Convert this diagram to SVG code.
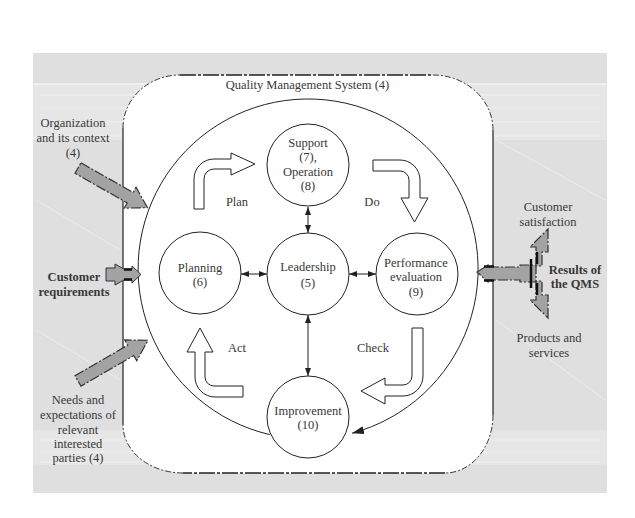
<svg xmlns="http://www.w3.org/2000/svg" width="635" height="518" viewBox="0 0 635 518">
  <style>
    .lbl { font-family: "Liberation Serif", "DejaVu Serif", serif; font-size: 12.5px; fill: #383838; text-anchor: middle; }
    .bold { font-weight: bold; }
    .node { fill: none; stroke: #222; stroke-width: 1; }
    .turn { fill: #fff; stroke: #222; stroke-width: 1; }
    .link { fill: none; stroke: #222; stroke-width: 1; marker-start: url(#tip); marker-end: url(#tip); }
    .input { fill: #a3a3a3; stroke: #333; stroke-width: 1.2; stroke-dasharray: 10 2 2 2; }
    .bar { stroke: #111; stroke-width: 2.5; }
    .streak { stroke: #fff; stroke-width: 1; opacity: 0.45; }
  </style>
  <defs>
    <marker id="tip" viewBox="0 0 8 6" refX="8" refY="3" markerWidth="8" markerHeight="6" markerUnits="userSpaceOnUse" orient="auto-start-reverse">
      <path d="M0,0 L8,3 L0,6 Z" fill="#222"/>
    </marker>
    <marker id="bigtip" viewBox="0 0 12 8" refX="12" refY="4" markerWidth="12" markerHeight="8" markerUnits="userSpaceOnUse" orient="auto">
      <path d="M0,0 L12,4 L0,8 Z" fill="#222"/>
    </marker>
  </defs>

  <!-- grey backdrop with light streaked bands -->
  <g id="backdrop">
    <rect x="33" y="53" width="574" height="440" fill="#dfdfdf"/>
    <rect x="33" y="85" width="574" height="55" fill="#e6e6e6"/>
    <rect x="33" y="430" width="574" height="35" fill="#e6e6e6"/>
    <line x1="33" y1="84" x2="607" y2="84" stroke="#fff" stroke-width="1.2"/>
    <line class="streak" x1="40" y1="95" x2="600" y2="95"/>
    <line class="streak" x1="40" y1="108" x2="600" y2="108"/>
    <line class="streak" x1="40" y1="122" x2="600" y2="122"/>
    <line class="streak" x1="40" y1="136" x2="600" y2="136"/>
    <line class="streak" x1="40" y1="440" x2="600" y2="440"/>
    <line class="streak" x1="40" y1="452" x2="600" y2="452"/>
    <line class="streak" x1="40" y1="462" x2="600" y2="462"/>
    <line class="streak" x1="36" y1="200" x2="120" y2="250"/>
    <line class="streak" x1="36" y1="330" x2="120" y2="380"/>
    <line class="streak" x1="496" y1="140" x2="605" y2="200"/>
    <line class="streak" x1="496" y1="320" x2="605" y2="400"/>
  </g>

  <!-- system boundary -->
  <g id="qms">
    <path d="M180,75 L433,75 A60,55 0 0 1 493,130 L493,415 A48,58 0 0 1 445,473 L183,473 A60,48 0 0 1 123,425 L123,128 A57,53 0 0 1 180,75 Z" fill="#fff"/>
    <path d="M180,75 L433,75 M445,473 L183,473" fill="none" stroke="#222" stroke-width="1.5" stroke-dasharray="16 2 3 2"/>
    <path d="M433,75 A60,55 0 0 1 493,130 M493,415 A48,58 0 0 1 445,473 M183,473 A60,48 0 0 1 123,425 M123,128 A57,53 0 0 1 180,75" fill="none" stroke="#222" stroke-width="0.9" stroke-dasharray="6 2 2 2"/>
    <path d="M493,130 L493,415 M123,425 L123,128" fill="none" stroke="#222" stroke-width="1.2"/>
    <text class="lbl" x="307.5" y="89">Quality Management System (4)</text>
  </g>

  <!-- PDCA cycle arrows -->
  <g id="plan-arrow">
    <path class="turn" d="M194,209 L194,179 A20,20 0 0 1 214,159 L231,159 L231,153 L255,164 L231,175 L231,169 L214,169 A10,10 0 0 0 204,179 L204,209 Z"/>
    <text class="lbl" x="237" y="206">Plan</text>
  </g>
  <g id="do-arrow">
    <path class="turn" d="M373,160 L400,160 A20,20 0 0 1 420,180 L420,198 L428,198 L414.5,222 L401,198 L409,198 L409,180 A9,9 0 0 0 400,171 L373,171 Z"/>
    <text class="lbl" x="372" y="206">Do</text>
  </g>
  <g id="check-arrow">
    <path class="turn" d="M412,328 L423,328 L423,376 A20,20 0 0 1 403,396 L385,396 L385,404 L361,391 L385,378 L385,385 L403,385 A9,9 0 0 0 412,376 Z"/>
    <text class="lbl" x="373" y="352">Check</text>
  </g>
  <g id="act-arrow">
    <path class="turn" d="M243,386 L243,397 L215,397 A20,20 0 0 1 195,377 L195,352 L187,352 L200,328 L213,352 L205,352 L205,377 A9,9 0 0 0 214,386 Z"/>
    <text class="lbl" x="237" y="352">Act</text>
  </g>

  <!-- clause nodes -->
  <g id="support">
    <circle class="node" cx="308" cy="165" r="41"/>
    <text class="lbl" x="308" y="147">Support</text>
    <text class="lbl" x="308" y="161">(7),</text>
    <text class="lbl" x="308" y="176">Operation</text>
    <text class="lbl" x="308" y="190">(8)</text>
  </g>
  <g id="leadership">
    <circle class="node" cx="308" cy="274" r="41"/>
    <text class="lbl" x="308" y="271">Leadership</text>
    <text class="lbl" x="308" y="287">(5)</text>
  </g>
  <g id="planning">
    <circle class="node" cx="200" cy="273" r="41"/>
    <text class="lbl" x="200" y="272">Planning</text>
    <text class="lbl" x="200" y="286">(6)</text>
  </g>
  <g id="performance">
    <circle class="node" cx="417" cy="274" r="41"/>
    <text class="lbl" x="416" y="267">Performance</text>
    <text class="lbl" x="416" y="281">evaluation</text>
    <text class="lbl" x="416" y="296">(9)</text>
  </g>
  <g id="improvement">
    <circle class="node" cx="308" cy="417" r="41"/>
    <text class="lbl" x="308" y="415">Improvement</text>
    <text class="lbl" x="308" y="429">(10)</text>
  </g>

  <!-- connectors -->
  <g id="connectors">
    <path d="M269.8,434.6 A170,170 0 1 1 352,433.2" fill="none" stroke="#222" stroke-width="1" marker-end="url(#bigtip)"/>
    <line class="link" x1="308" y1="207" x2="308" y2="233"/>
    <line class="link" x1="241" y1="274" x2="267" y2="274"/>
    <line class="link" x1="349" y1="274" x2="376" y2="274"/>
    <line class="link" x1="308" y1="315" x2="308" y2="376"/>
  </g>

  <!-- inputs -->
  <g id="context">
    <text class="lbl" x="73" y="127">Organization</text>
    <text class="lbl" x="73" y="142">and its context</text>
    <text class="lbl" x="73" y="157">(4)</text>
    <polygon class="input" transform="translate(78,168) rotate(29.7)" points="0,-6 60,-6 60,-12 80,0 60,12 60,6 0,6"/>
  </g>
  <g id="customer-requirements">
    <text class="lbl bold" x="74" y="281">Customer</text>
    <text class="lbl bold" x="74" y="296">requirements</text>
    <polygon points="106,268 115,268 115,264 124,269 132,269 132,266 141,274.5 132,283 132,280 124,280 115,285 115,281 106,281" fill="#a3a3a3" stroke="#333" stroke-width="1"/>
    <line class="bar" x1="124" y1="269.5" x2="132" y2="269.5"/>
    <line class="bar" x1="124" y1="279.5" x2="132" y2="279.5"/>
  </g>
  <g id="interested-parties">
    <polygon class="input" transform="translate(78,381) rotate(-30.2)" points="0,-6 61,-6 61,-12 81,0 61,12 61,6 0,6"/>
    <text class="lbl" x="78" y="404">Needs and</text>
    <text class="lbl" x="78" y="419">expectations of</text>
    <text class="lbl" x="78" y="434">relevant</text>
    <text class="lbl" x="78" y="448">interested</text>
    <text class="lbl" x="78" y="462">parties (4)</text>
  </g>

  <!-- outputs -->
  <g id="results">
    <polygon class="input" points="477,272 488,265 488,267 520,267 520,265 536,265 536,282 520,282 520,280 488,280 488,282"/>
    <polygon class="input" points="548,229 548,252 542,252 542,266 536,266 536,247 530,247"/>
    <polygon class="input" points="548,318 548,295 542,295 542,281 536,281 536,300 530,300"/>
    <line class="bar" x1="531" y1="259" x2="531" y2="288"/>
    <line class="bar" x1="537" y1="252" x2="537" y2="264"/>
    <line class="bar" x1="537" y1="283" x2="537" y2="295"/>
    <line class="bar" x1="484" y1="266.5" x2="494" y2="266.5"/>
    <line class="bar" x1="484" y1="280.5" x2="494" y2="280.5"/>
    <text class="lbl bold" x="575" y="274">Results of</text>
    <text class="lbl bold" x="575" y="288">the QMS</text>
  </g>
  <g id="customer-satisfaction">
    <text class="lbl" x="548" y="211">Customer</text>
    <text class="lbl" x="548" y="226">satisfaction</text>
  </g>
  <g id="products">
    <text class="lbl" x="549" y="342">Products and</text>
    <text class="lbl" x="549" y="357">services</text>
  </g>
</svg>
